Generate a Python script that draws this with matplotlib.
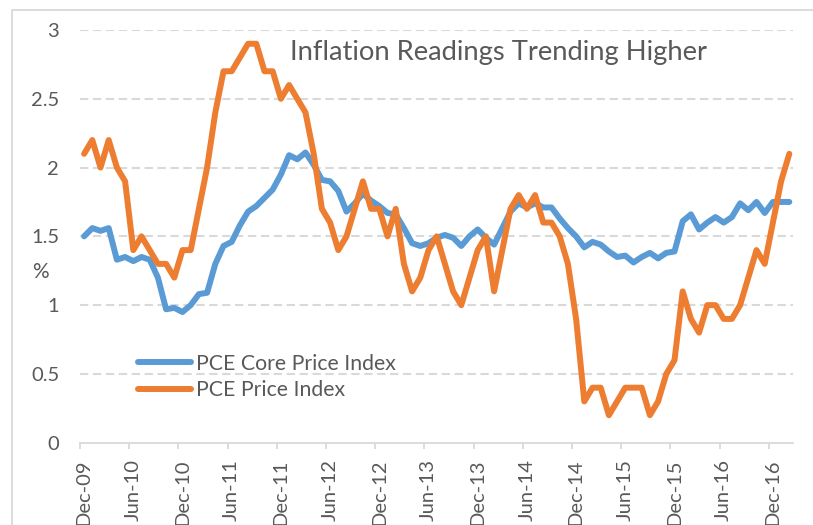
import numpy as np
import pandas as pd
import matplotlib
matplotlib.use("Agg")
import matplotlib.pyplot as plt
from matplotlib.patches import Rectangle

# data (monthly Dec-09 .. Feb-17)
months = pd.date_range("2009-12-01", "2017-02-01", freq="MS")

pce_core = [1.50, 1.56, 1.54, 1.56, 1.33, 1.35, 1.32, 1.35, 1.33, 1.20,
            0.97, 0.98, 0.95, 1.00, 1.08, 1.09, 1.30, 1.43, 1.46, 1.58,
            1.68, 1.72, 1.78, 1.84, 1.95, 2.09, 2.06, 2.11, 2.02, 1.91,
            1.90, 1.83, 1.68, 1.74, 1.81, 1.76, 1.72, 1.67, 1.66, 1.56,
            1.45, 1.43, 1.45, 1.49, 1.51, 1.49, 1.43, 1.50, 1.55, 1.49,
            1.44, 1.56, 1.68, 1.74, 1.71, 1.74, 1.71, 1.71, 1.63, 1.56,
            1.50, 1.42, 1.46, 1.44, 1.39, 1.35, 1.36, 1.31, 1.35, 1.38,
            1.34, 1.38, 1.39, 1.61, 1.66, 1.55, 1.60, 1.64, 1.60, 1.64,
            1.74, 1.69, 1.75, 1.67, 1.75, 1.75, 1.75]

pce_all = [2.1, 2.2, 2.0, 2.2, 2.0, 1.9, 1.4, 1.5, 1.4, 1.3,
           1.3, 1.2, 1.4, 1.4, 1.7, 2.0, 2.4, 2.7, 2.7, 2.8,
           2.9, 2.9, 2.7, 2.7, 2.5, 2.6, 2.5, 2.4, 2.1, 1.7,
           1.6, 1.4, 1.5, 1.7, 1.9, 1.7, 1.7, 1.5, 1.7, 1.3,
           1.1, 1.2, 1.4, 1.5, 1.3, 1.1, 1.0, 1.2, 1.4, 1.5,
           1.1, 1.4, 1.7, 1.8, 1.7, 1.8, 1.6, 1.6, 1.5, 1.3,
           0.9, 0.3, 0.4, 0.4, 0.2, 0.3, 0.4, 0.4, 0.4, 0.2,
           0.3, 0.5, 0.6, 1.1, 0.9, 0.8, 1.0, 1.0, 0.9, 0.9,
           1.0, 1.2, 1.4, 1.3, 1.6, 1.9, 2.1]

tick_labels = ["Dec-09", "Jun-10", "Dec-10", "Jun-11", "Dec-11", "Jun-12",
               "Dec-12", "Jun-13", "Dec-13", "Jun-14", "Dec-14", "Jun-15",
               "Dec-15", "Jun-16", "Dec-16"]

series_names = ["PCE Core Price Index", "PCE Price Index"]

plt.rcParams['font.family'] = ['Lato', 'DejaVu Sans']
text_col = "#595959"
grid_col = "#d9d9d9"

W, H = 813, 525
fig = plt.figure(figsize=(W / 100, H / 100), dpi=100)
ax = fig.add_axes([80 / W, 82.3 / H, 713.4 / W, 412.7 / H])

x = np.arange(len(months))
ax.plot(x, pce_core, color="#5B9BD5", lw=4.3, solid_joinstyle="round",
        solid_capstyle="round", label=series_names[0], zorder=3)
ax.plot(x, pce_all, color="#ED7D31", lw=4.3, solid_joinstyle="round",
        solid_capstyle="round", label=series_names[1], zorder=3)

ax.set_xlim(-0.5, len(months) - 0.5)
ax.set_ylim(0, 3)

# gridlines
for v in np.arange(0.5, 3.01, 0.5):
    ax.axhline(v, color=grid_col, lw=1.5, ls=(0, (4, 2.2)), zorder=1)

for s in ["top", "right", "left"]:
    ax.spines[s].set_visible(False)
ax.spines["bottom"].set_color(grid_col)
ax.spines["bottom"].set_linewidth(1.3)

# x axis: tick marks between categories, labels on categories
ax.set_xticks(np.arange(-0.5, len(months), 6))
ax.set_xticklabels([])
ax.set_xticks(np.arange(0, len(months), 6), minor=True)
ax.set_xticklabels(tick_labels, minor=True, rotation=90)
ax.tick_params(axis="x", which="major", length=4.5, color=grid_col, width=1.3)
ax.tick_params(axis="x", which="minor", length=0, pad=12,
               labelsize=14.5, labelcolor=text_col)

ax.set_yticks(np.arange(0, 3.01, 0.5))
ax.set_yticklabels(["0", "0.5", "1", "1.5", "2", "2.5", "3"])
ax.tick_params(axis="y", length=0, pad=15, labelsize=14.5, labelcolor=text_col)

fig.text(32 / W, 1 - 272 / H, "%", fontsize=15, color=text_col, va="center")

fig.text(290 / W, 1 - 60 / H, "Inflation Readings Trending Higher",
         fontsize=19.7, color=text_col, va="baseline")

ax.legend(loc="center left", bbox_to_anchor=(138 / W, 1 - 377 / H),
          bbox_transform=fig.transFigure, frameon=False, fontsize=15.3,
          handlelength=2.5, handletextpad=0.22, labelspacing=0.3,
          borderpad=0, borderaxespad=0, labelcolor=text_col)

# chart frame
fig.add_artist(Rectangle((12 / W, -0.1), 2, 1.1 - 10 / H, fill=False,
                         edgecolor=grid_col, lw=1.3,
                         transform=fig.transFigure))

fig.savefig("out.png", dpi=100)
